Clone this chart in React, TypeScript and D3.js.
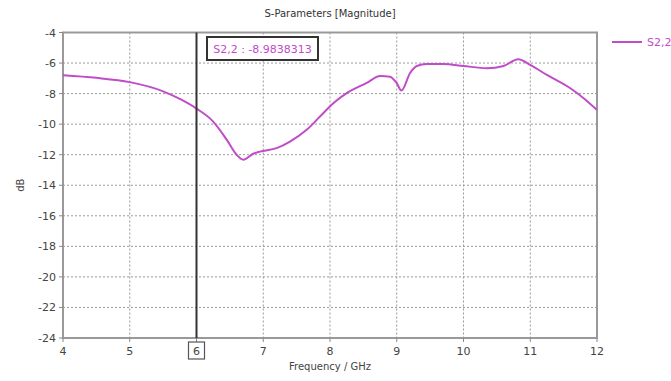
import React from "react";
import * as d3 from "d3";

const freqGHz = [4.0, 4.5, 5.0, 5.5, 5.75, 6.0, 6.25, 6.45, 6.6, 6.7, 6.85, 6.95, 7.2, 7.4, 7.65, 7.85, 8.05, 8.25, 8.55, 8.75, 8.9, 9.0, 9.07, 9.2, 9.3, 9.45, 9.7, 10.0, 10.35, 10.6, 10.82, 11.0, 11.25, 11.6, 11.8, 12.0];
const s22dB = [-6.8, -6.97, -7.25, -7.85, -8.35, -8.98, -9.83, -11.0, -12.0, -12.33, -11.94, -11.8, -11.57, -11.14, -10.37, -9.5, -8.63, -7.97, -7.3, -6.85, -6.89, -7.32, -7.8, -6.65, -6.19, -6.06, -6.06, -6.19, -6.34, -6.19, -5.75, -6.12, -6.78, -7.65, -8.3, -9.07];
const xTicks = [4, 5, 6, 7, 8, 9, 10, 11, 12];
const yTicks = [-4, -6, -8, -10, -12, -14, -16, -18, -20, -22, -24];
const markerFreq = 6;
const markerValue = "-8.9838313";
const seriesName = "S2,2";

const W = 671;
const H = 381;
const m = { left: 63, right: 597, top: 32.5, bottom: 338 };
const curveColor = "#c04cc8";
const font = "Tahoma, 'DejaVu Sans', sans-serif";

export default function App() {
  const x = d3.scaleLinear().domain([4, 12]).range([m.left, m.right]);
  const y = d3.scaleLinear().domain([-24, -4]).range([m.bottom, m.top]);
  const line = d3
    .line<number>()
    .x((_, i) => x(freqGHz[i]))
    .y((d) => y(d))
    .curve(d3.curveMonotoneX);
  const mx = x(markerFreq);

  return (
    <svg
      width={W}
      height={H}
      style={{ position: "absolute", left: 0, top: 0, background: "#fff" }}
      fontFamily={font}
    >
      <text x={330} y={17} fontSize={10} textAnchor="middle" fill="#333">
        S-Parameters [Magnitude]
      </text>

      {/* grid */}
      {xTicks.slice(1, -1).map((t) => (
        <line key={"gx" + t} x1={x(t)} x2={x(t)} y1={m.top} y2={m.bottom} stroke="#999" strokeWidth={1} strokeDasharray="2,2" />
      ))}
      {yTicks.slice(1, -1).map((t) => (
        <line key={"gy" + t} x1={m.left} x2={m.right} y1={y(t)} y2={y(t)} stroke="#999" strokeWidth={1} strokeDasharray="2,2" />
      ))}

      {/* frame */}
      <rect x={m.left} y={m.top} width={m.right - m.left} height={m.bottom - m.top} fill="none" stroke="#999" strokeWidth={2} />

      {/* ticks and labels */}
      {yTicks.map((t) => (
        <g key={"ty" + t}>
          <line x1={m.left - 4} x2={m.left} y1={y(t)} y2={y(t)} stroke="#888" />
          <text x={m.left - 7} y={y(t) + 4} fontSize={11} textAnchor="end" fill="#444">
            {t}
          </text>
        </g>
      ))}
      {xTicks.map((t) => (
        <g key={"tx" + t}>
          <line x1={x(t)} x2={x(t)} y1={m.bottom} y2={m.bottom + 4} stroke="#888" />
          <text x={x(t)} y={m.bottom + 17} fontSize={11} textAnchor="middle" fill="#444">
            {t}
          </text>
        </g>
      ))}
      <rect x={mx - 8} y={m.bottom + 4} width={16} height={17} fill="none" stroke="#555" strokeWidth={1.2} />

      <text x={330} y={370} fontSize={10} textAnchor="middle" fill="#444">
        Frequency / GHz
      </text>
      <text transform={`translate(24,${(m.top + m.bottom) / 2}) rotate(-90)`} fontSize={10} textAnchor="middle" fill="#444">
        dB
      </text>

      {/* curve */}
      <path d={line(s22dB) ?? ""} fill="none" stroke={curveColor} strokeWidth={2} />

      {/* marker */}
      <line x1={mx} x2={mx} y1={m.top} y2={m.bottom} stroke="#333" strokeWidth={2} />
      <rect x={207} y={37} width={111} height={23} fill="#fff" stroke="#333" strokeWidth={2} />
      <text x={262.5} y={52.5} fontSize={11} textAnchor="middle" fill={curveColor}>
        {`${seriesName} : ${markerValue}`}
      </text>

      {/* legend */}
      <line x1={612} x2={642} y1={42} y2={42} stroke={curveColor} strokeWidth={2} />
      <text x={647} y={46} fontSize={11} fill={curveColor}>
        {seriesName}
      </text>
    </svg>
  );
}
